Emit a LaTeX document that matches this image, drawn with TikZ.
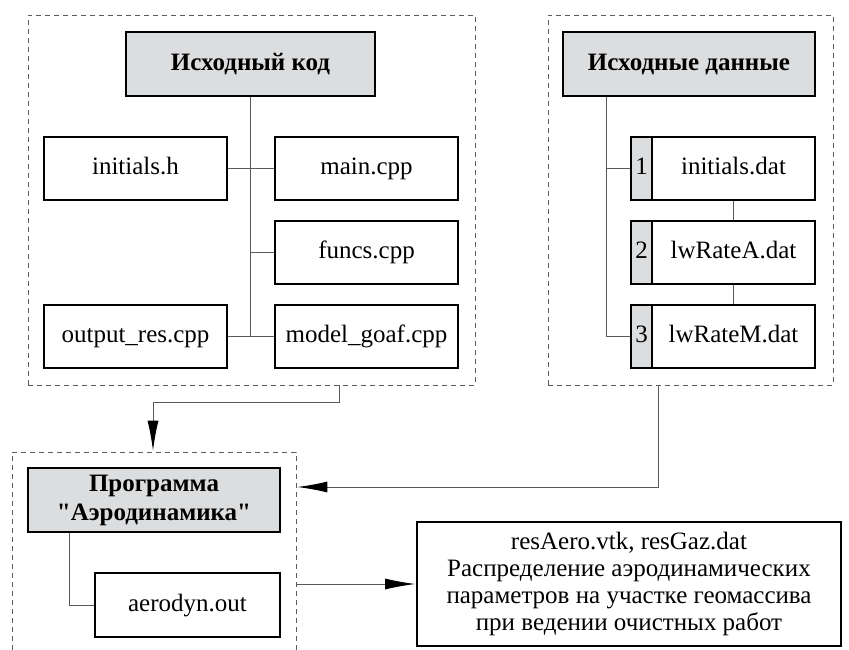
\documentclass[tikz,border=0pt]{standalone}
\usepackage{fontspec}
\setmainfont{Liberation Serif}[Ligatures=TeXOff]
\usetikzlibrary{arrows.meta}

\definecolor{headgray}{RGB}{220,221,223}
\definecolor{linegray}{RGB}{90,90,90}

\tikzset{
  filebox/.style={draw, line width=1.6pt, minimum height=63pt, inner sep=0pt,
    text height=17pt, text depth=5pt, font=\fontsize{25}{28}\selectfont},
  headbox/.style={filebox, fill=headgray, minimum height=64pt, text height=,
    text depth=, font=\fontsize{25}{29}\selectfont\bfseries, align=center},
  numbox/.style={filebox, fill=headgray, minimum width=21pt},
  frame/.style={draw=linegray, dashed, dash pattern=on 5pt off 4pt, line width=0.7pt,
    inner sep=0pt},
  link/.style={draw=linegray, line width=0.9pt},
  flow/.style={link, -{Latex[length=30pt,width=11pt,black]}, shorten >=1pt}
}

\begin{document}
\begin{tikzpicture}[x=1pt,y=-1pt]
\useasboundingbox (0,0) rectangle (849,649);

% dashed groups
\node[frame, minimum width=447pt, minimum height=370pt] (fcode) at (251.5,200) {};
\node[frame, minimum width=285pt, minimum height=370pt] (fdata) at (690.5,200) {};
\node[frame, minimum width=284pt, minimum height=220pt] (fprog) at (154,562) {};

% source code
\node[headbox, minimum width=249pt] (code) at (250.5,64) {Исходный код};
\node[filebox, minimum width=183pt] (initials) at (135.5,168.5) {initials.h};
\node[filebox, minimum width=183pt] (main) at (366.5,168.5) {main.cpp};
\node[filebox, minimum width=183pt] (funcs) at (366.5,252.5) {funcs.cpp};
\node[filebox, minimum width=183pt] (outres) at (135.5,336.5) {output\_res.cpp};
\node[filebox, minimum width=183pt] (goaf) at (366.5,336.5) {model\_goaf.cpp};

\draw[link] (code.south) -- (code.south |- goaf.west);
\draw[link] (initials.east) -- (main.west);
\draw[link] (code.south |- funcs.west) -- (funcs.west);
\draw[link] (outres.east) -- (goaf.west);

% input data
\node[headbox, minimum width=252pt] (data) at (689,64) {Исходные данные};
\node[numbox] (num1) at (641.5,168.5) {1};
\node[filebox, minimum width=163pt] (file1) at (733.5,168.5) {initials.dat};
\node[numbox] (num2) at (641.5,252.5) {2};
\node[filebox, minimum width=163pt] (file2) at (733.5,252.5) {lwRateA.dat};
\node[numbox] (num3) at (641.5,336.5) {3};
\node[filebox, minimum width=163pt] (file3) at (733.5,336.5) {lwRateM.dat};

\draw[link] ([xshift=44pt]data.south west) |- (num3.west);
\draw[link] ([xshift=44pt]data.south west |- num1.west) -- (num1.west);
\draw[link] (file1.south) -- (file2.north);
\draw[link] (file2.south) -- (file3.north);

% program
\node[headbox, minimum width=252pt] (prog) at (154,500)
  {Программа\\"Аэродинамика"};
\node[filebox, minimum width=185pt, minimum height=64pt] (aero) at (187.5,605) {aerodyn.out};
\draw[link] ([xshift=42pt]prog.south west) |- (aero.west);

% results
\node[filebox, minimum width=424pt, minimum height=124pt, align=center, text height=,
  text depth=, font=\fontsize{25}{27}\selectfont] (res) at (629,584)
  {resAero.vtk, resGaz.dat\\Распределение аэродинамических\\параметров на участке геомассива\\при ведении очистных работ};

% flows
\coordinate (c1) at ([xshift=88pt]fcode.south);
\coordinate (c2) at ([xshift=-32pt]fdata.south);
\draw[flow] (c1) -- ++(0,17) -| ([xshift=-1pt]fprog.north);
\draw[flow] (c2) |- (fprog.east |- 0,487);
\draw[flow] (fprog.east |- res.west) -- (res.west);
\end{tikzpicture}
\end{document}
